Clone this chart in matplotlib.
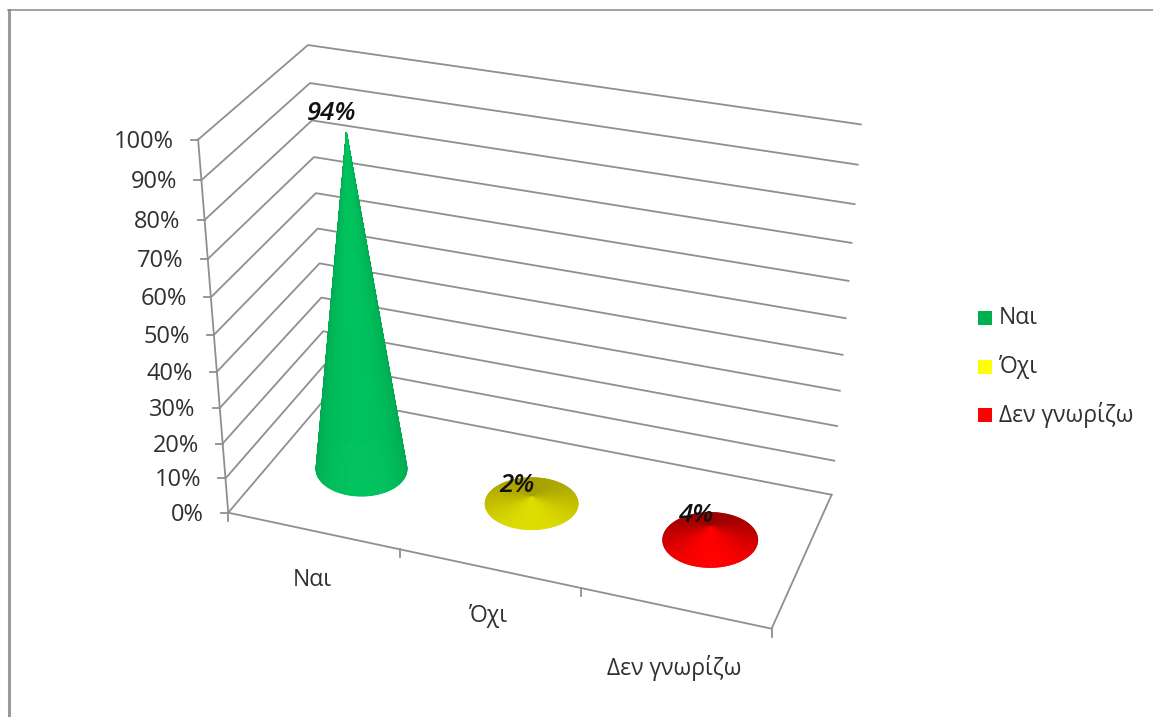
import numpy as np
import matplotlib
matplotlib.use('Agg')
import matplotlib.pyplot as plt
from matplotlib.colors import to_rgb
from matplotlib.collections import PolyCollection
from matplotlib.patches import Rectangle

plt.rcParams['font.family'] = ['Open Sans', 'DejaVu Sans']

categories = ['Ναι', 'Όχι', 'Δεν γνωρίζω']
values = [94, 2, 4]
value_labels = ['94%', '2%', '4%']
y_ticks = [0, 10, 20, 30, 40, 50, 60, 70, 80, 90, 100]
y_tick_labels = ['0%', '10%', '20%', '30%', '40%', '50%', '60%', '70%', '80%', '90%', '100%']

GRID = '#8f8f8f'
TEXT = '#303030'
front_cols = ['#00C35E', '#DDDD00', '#FF0000']
back_cols = ['#008F43', '#A8A000', '#9A0000']
legend_cols = ['#00B050', '#FFFF00', '#FF0000']
label_drop = [49, 48, 60]
base_rx = [45.5, 46.5, 47.5]
base_ry = [27, 26, 27.5]
value_label_dy = [-19, -11, -11]

# box corners (category, depth, value) -> pixel, used to fit the camera
box3d = np.array([[0, 0, 0], [0, 0, 100], [0, 1, 0], [0, 1, 100],
                  [3, 0, 0], [3, 1, 0], [3, 1, 100]], dtype=float)
box2d = np.array([[228, 512], [199, 139], [327, 398], [307, 45],
                  [771, 630], [832, 493], [861, 125]], dtype=float)

def fit_camera(p3, p2):
    A, b = [], []
    for (x, y, z), (u, v) in zip(p3, p2):
        A.append([x, y, z, 1, 0, 0, 0, 0, -u*x, -u*y, -u*z])
        b.append(u)
        A.append([0, 0, 0, 0, x, y, z, 1, -v*x, -v*y, -v*z])
        b.append(v)
    sol = np.linalg.lstsq(np.array(A), np.array(b), rcond=None)[0]
    return np.append(sol, 1.0).reshape(3, 4)

CAM = fit_camera(box3d, box2d)

def project(x, y, z):
    x, y, z = np.broadcast_arrays(x, y, z)
    h = CAM @ np.vstack([np.ravel(x), np.ravel(y), np.ravel(z), np.ones(np.size(x))])
    return h[0]/h[2], h[1]/h[2]

def cone_tip(cat, value):
    # the renderer keeps cones a touch shorter than the wall scale
    cx, cy = project(cat + 0.5, 0.5, 0)
    tx, ty = project(cat + 0.5, 0.5, value)
    return cx[0] + 0.985*(tx[0]-cx[0]), cy[0] + 0.985*(ty[0]-cy[0])

def draw_cone(ax, cat, value, front, back, rx, ry, n=180):
    front, back = np.array(to_rgb(front)), np.array(to_rgb(back))
    cx, cy = project(cat + 0.5, 0.5, 0)
    th = np.linspace(0, 2*np.pi, n+1)
    bx = cx[0] + rx*np.cos(th)
    by = cy[0] + ry*np.sin(th)
    tipx, tipy = cone_tip(cat, value)
    mid = (th[:-1] + th[1:])/2
    # y points down here, sin>0 faces the viewer; paint back to front
    facing = np.sin(mid)
    order = np.argsort(facing)
    polys = [[(tipx, tipy), (bx[i], by[i]), (bx[i+1], by[i+1])] for i in order]
    shade = (facing[order] + 1)/2
    cols = back + (front - back)*shade[:, None]
    ax.add_collection(PolyCollection(polys, facecolors=cols, edgecolors=cols, linewidths=0.6, zorder=3))

fig = plt.figure(figsize=(11.53, 7.17), dpi=100)
ax = fig.add_axes([0, 0, 1, 1])
ax.set_xlim(0, 1153)
ax.set_ylim(717, 0)
ax.axis('off')

# outer frame, only left and top survive
ax.plot([8.5, 8.5], [10, 717], color='#9a9a9a', lw=2.2)
ax.plot([8, 1153], [10, 10], color='#8a8a8a', lw=1.1)

# walls
for t in y_ticks:
    xs, ys = project([0, 0, 3], [0, 1, 1], t)
    ax.plot(xs, ys, color=GRID, lw=1.3, zorder=1)

# axes and ticks
xs, ys = project([0, 0], [0, 0], [0, 100])
ax.plot(xs, ys, color=GRID, lw=1.3, zorder=1)
xs, ys = project([0, 3, 3], [0, 0, 1], 0)
ax.plot(xs, ys, color=GRID, lw=1.3, zorder=1)
for t, lab in zip(y_ticks, y_tick_labels):
    px, py = project(0, 0, t)
    ax.plot([px[0]-7, px[0]], [py[0], py[0]], color=GRID, lw=1.3, zorder=1)
    ax.text(px[0]-24, py[0]+2, lab, ha='right', va='center', fontsize=17, color=TEXT)
for c in range(len(categories)+1):
    px, py = project(c, 0, 0)
    ax.plot([px[0], px[0]], [py[0], py[0]+8], color=GRID, lw=1.3, zorder=1)

for c, (name, v) in enumerate(zip(categories, values)):
    draw_cone(ax, c, v, front_cols[c], back_cols[c], base_rx[c], base_ry[c])
    px, py = project(c + 0.5, 0, 0)
    ax.text(px[0]-1, py[0]+label_drop[c], name, ha='center', va='center', fontsize=16.5, color=TEXT)

# value labels sit just above and left of the cone tips
for c, (lab, v) in enumerate(zip(value_labels, values)):
    px, py = cone_tip(c, v)
    ax.text(px-15, py+value_label_dy[c], lab, ha='center', va='center', fontsize=18.5,
            fontweight='semibold', fontstyle='italic', color='#111111', zorder=5)

# legend
for name, col, ly in zip(categories, legend_cols, [318, 367, 415]):
    ax.add_patch(Rectangle((978, ly-7), 14, 14, facecolor=col, edgecolor='none'))
    ax.text(999, ly, name, ha='left', va='center', fontsize=16.5, color=TEXT)

fig.savefig('out.png', dpi=100)
